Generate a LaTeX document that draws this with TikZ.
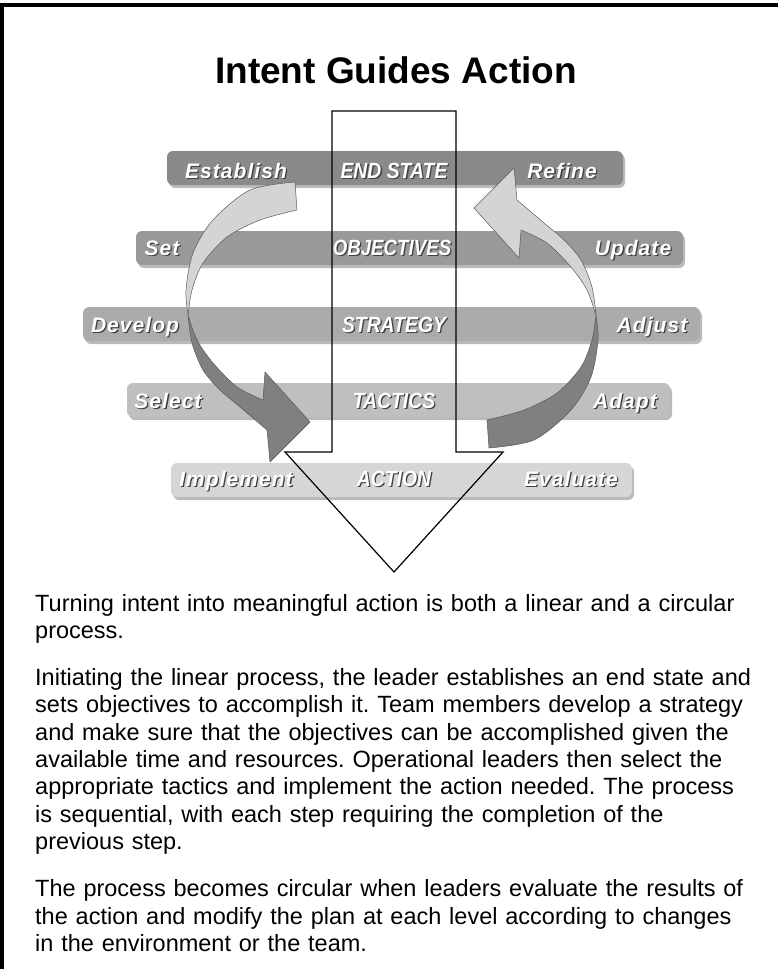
\documentclass[tikz,border=0pt]{standalone}
\usepackage{fontspec}
\usepackage{graphicx}
\setmainfont{Liberation Sans}
\newfontfamily\stepfont[LetterSpace=5]{Liberation Sans}
\usetikzlibrary{shadows}
\frenchspacing

\definecolor{ribbonlight}{gray}{0.83}
\definecolor{ribbondark}{gray}{0.5}
\definecolor{ribbonedge}{gray}{0.35}

% white lettering with a dark drop under it
\newcommand{\raisedtext}[1]{%
  \rlap{\kern1.3pt\raisebox{-1.3pt}{\color{black!75}#1}}{\color{white}#1}}

\tikzset{
  stagebar/.style={
    rounded corners=6pt,
    minimum height=34pt,
    inner sep=0pt,
    drop shadow={shadow xshift=2pt, shadow yshift=-3pt, opacity=0.45, fill=black!60}
  },
  steplabel/.style={
    inner sep=0pt, anchor=base,
    font=\stepfont\bfseries\itshape\fontsize{21}{25}\selectfont
  },
  stagelabel/.style={
    inner sep=0pt, anchor=base,
    font=\bfseries\itshape\fontsize{22}{25}\selectfont
  },
  bodytext/.style={
    anchor=base west, inner sep=0pt, text width=760pt, align=left,
    font=\fontsize{23.5}{27.3}\selectfont
  },
  ribbonface/.style={fill=#1, draw=ribbonedge, line width=0.5pt},
  pics/ribbon/.style 2 args={code={
    \filldraw[ribbonface=#1]
      plot[smooth] coordinates {(-97,-133) (-142,-125) (-179,-95) (-199,-62) (-206,-25) (-204,0)}
      -- plot[smooth] coordinates {(-204,0) (-200,-25) (-189,-52) (-165,-78) (-132,-95) (-95,-105)}
      -- cycle;
    \filldraw[ribbonface=#2]
      plot[smooth] coordinates {(-204,0) (-200,28) (-189,55) (-172,75) (-152,92) (-125,115)}
      -- (-122,147) -- (-82,107) -- (-127,57)
      -- plot[smooth] coordinates {(-129,85) (-155,72) (-179,48) (-195,25) (-204,0)}
      -- cycle;
  }}
}

\begin{document}
\begin{tikzpicture}[x=1pt, y=-1pt]
  \useasboundingbox (0,0) rectangle (778,969);

  % frame
  \draw[line width=4.5pt] (0,5) -- (778,5);
  \draw[line width=4.5pt] (2,3) -- (2,969);

  \node[font=\bfseries\fontsize{37}{40}\selectfont, anchor=base] (title) at (396,83) {Intent Guides Action};

  % the five levels
  \node[stagebar, fill=black!46, minimum width=456pt] (endbar) at (395,168) {};
  \node[stagebar, fill=black!40, minimum width=547pt] (objbar) at (409.5,248) {};
  \node[stagebar, fill=black!33, minimum width=617pt] (stratbar) at (391.5,324) {};
  \node[stagebar, fill=black!25, minimum width=543pt] (tacbar) at (398.5,400) {};
  \node[stagebar, fill=black!16, minimum width=461pt] (actbar) at (401.5,480) {};

  \node[steplabel] (establish) at (236,178) {\raisedtext{Establish}};
  \node[stagelabel] (endstate) at (394,178) {\raisedtext{\scalebox{0.88}[1]{END STATE}}};
  \node[steplabel] (refine) at (562,178) {\raisedtext{Refine}};

  \node[steplabel] (set) at (162,255) {\raisedtext{Set}};
  \node[stagelabel] (objectives) at (392,255) {\raisedtext{\scalebox{0.85}[1]{OBJECTIVES}}};
  \node[steplabel] (update) at (633,255) {\raisedtext{Update}};

  \node[steplabel] (develop) at (135,332) {\raisedtext{Develop}};
  \node[stagelabel] (strategy) at (394,332) {\raisedtext{\scalebox{0.88}[1]{STRATEGY}}};
  \node[steplabel] (adjust) at (652,332) {\raisedtext{Adjust}};

  \node[steplabel] (select) at (168,408) {\raisedtext{Select}};
  \node[stagelabel] (tactics) at (394,408) {\raisedtext{\scalebox{0.88}[1]{TACTICS}}};
  \node[steplabel] (adapt) at (625,408) {\raisedtext{Adapt}};

  \node[steplabel] (implement) at (236,486) {\raisedtext{Implement}};
  \node[stagelabel] (action) at (394,486) {\raisedtext{\scalebox{0.88}[1]{ACTION}}};
  \node[steplabel] (evaluate) at (571,486) {\raisedtext{Evaluate}};

  % circular process
  \pic (leftloop) at (392,315) {ribbon={ribbonlight}{ribbondark}};
  \pic[rotate=180] (rightloop) at (392,315) {ribbon={ribbondark}{ribbonlight}};

  % linear process
  \draw[line width=1.2pt, line join=miter]
    (332,111) -- (456,111) -- (456,452) -- (503,452)
    -- (394,572) -- (285,452) -- (332,452) -- cycle;

  \node[bodytext] (para1) at (35,611)
    {Turning intent into meaningful action is both a linear and a circular\\
     process.};
  \node[bodytext] (para2) at (35,685.6)
    {Initiating the linear process, the leader establishes an end state and\\
     sets objectives to accomplish it. Team members develop a strategy\\
     and make sure that the objectives can be accomplished given the\\
     available time and resources. Operational leaders then select the\\
     appropriate tactics and implement the action needed. The process\\
     is sequential, with each step requiring the completion of the\\
     previous step.};
  \node[bodytext] (para3) at (35,896.7)
    {The process becomes circular when leaders evaluate the results of\\
     the action and modify the plan at each level according to changes\\
     in the environment or the team.};
\end{tikzpicture}
\end{document}
